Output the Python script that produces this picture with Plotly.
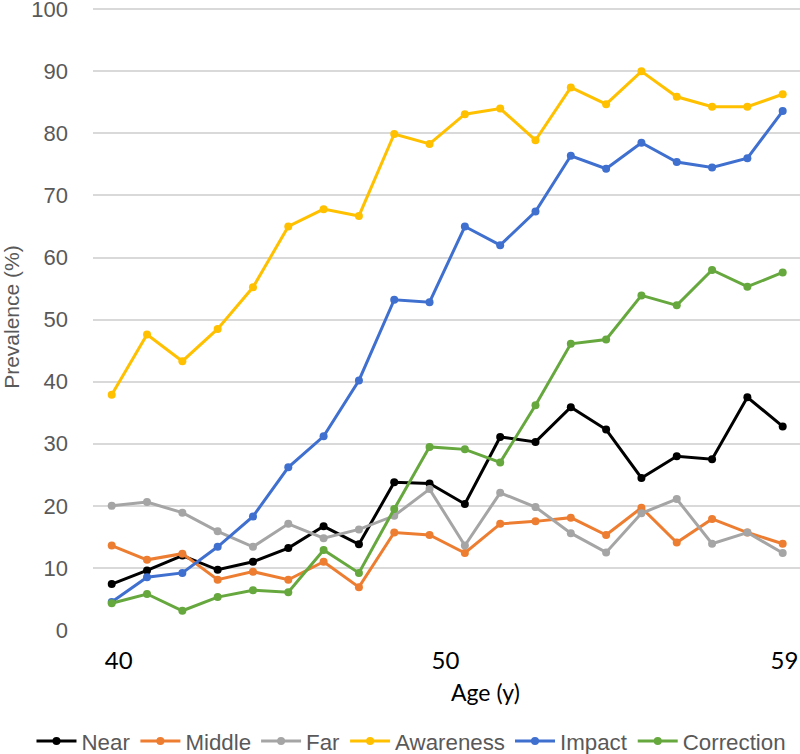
import plotly.graph_objects as go

ages = list(range(40, 60))
near = [7.4, 9.6, 12.0, 9.7, 11.0, 13.2, 16.7, 13.8, 23.8, 23.6, 20.3, 31.1, 30.3, 35.9, 32.3, 24.5, 28.0, 27.5, 37.5, 32.8]
middle = [13.6, 11.3, 12.3, 8.1, 9.4, 8.1, 11.0, 6.9, 15.7, 15.3, 12.4, 17.1, 17.5, 18.1, 15.3, 19.7, 14.1, 17.9, 15.7, 13.9]
far = [20.0, 20.6, 18.9, 15.9, 13.4, 17.1, 14.8, 16.2, 18.4, 22.7, 13.6, 22.1, 19.8, 15.6, 12.5, 18.8, 21.1, 13.9, 15.7, 12.4]
awareness = [37.9, 47.6, 43.3, 48.5, 55.2, 65.0, 67.8, 66.7, 79.9, 78.3, 83.1, 84.0, 78.9, 87.4, 84.7, 90.0, 85.9, 84.3, 84.3, 86.3]
impact = [4.5, 8.5, 9.2, 13.4, 18.3, 26.2, 31.2, 40.2, 53.2, 52.8, 65.0, 62.0, 67.4, 76.4, 74.3, 78.5, 75.4, 74.5, 76.0, 83.6]
correction = [4.3, 5.8, 3.1, 5.3, 6.4, 6.1, 12.9, 9.2, 19.5, 29.5, 29.1, 27.0, 36.2, 46.1, 46.8, 53.9, 52.3, 58.0, 55.3, 57.6]

series_names = ["Near", "Middle", "Far", "Awareness", "Impact", "Correction"]
series_values = [near, middle, far, awareness, impact, correction]
colors = ["#000000", "#ED7D31", "#A5A5A5", "#FFC000", "#3F6FCF", "#66A83E"]

x_tick_text = ["40", "50", "59"]
y_ticks = list(range(0, 101, 10))

fig = go.Figure()
for name, vals, c in zip(series_names, series_values, colors):
    fig.add_trace(go.Scatter(
        x=ages, y=vals, name=name, mode="lines+markers",
        line=dict(color=c, width=3),
        marker=dict(color=c, size=8),
    ))

fig.update_layout(
    width=800, height=754,
    margin=dict(l=93, r=0, t=8, b=124, autoexpand=False),
    paper_bgcolor="white", plot_bgcolor="white",
    showlegend=True,
    legend=dict(
        orientation="h", x=-0.087, xanchor="left", y=(629.3 - 740) / 620.3, yanchor="middle",
        font=dict(family="Liberation Sans, Arial", size=22.3, color="#595959"),
        itemwidth=40, tracegroupgap=0, bgcolor="rgba(0,0,0,0)",
    ),
    xaxis=dict(
        range=[39.47, 59.49], automargin=False,
        tickmode="array", tickvals=[40.2, 49.45, 59.05], ticktext=x_tick_text,
        showgrid=False, zeroline=False, showline=False, ticks="",
        tickfont=dict(family="Lato", size=24, color="#000000"),
        ticklabelstandoff=14, ticklabeloverflow="allow",
    ),
    yaxis=dict(
        range=[0, 100.2], automargin=False, tickmode="array", tickvals=y_ticks,
        showgrid=True, gridcolor="#D9D9D9", gridwidth=1.5,
        zeroline=False, showline=False, ticks="",
        tickfont=dict(family="Liberation Sans, Arial", size=22, color="#595959"),
        ticklabelstandoff=24, ticklabeloverflow="allow",
    ),
    annotations=[
        dict(text="Age (y)", xref="paper", yref="paper",
             x=(485 - 93) / 707, y=(629.3 - 691) / 620.3,
             xanchor="center", yanchor="middle", showarrow=False,
             font=dict(family="Lato", size=23, color="#000000")),
        dict(text="Prevalence (%)", xref="paper", yref="paper",
             x=(12 - 93) / 707, y=(629.3 - 317) / 620.3, textangle=-90,
             xanchor="center", yanchor="middle", showarrow=False,
             font=dict(family="Liberation Sans, Arial", size=21, color="#595959")),
    ],
)

fig.write_html(
    "out.html",
    config={"displayModeBar": False},
    post_script="document.body.style.margin='0';document.body.style.overflow='hidden';",
)
